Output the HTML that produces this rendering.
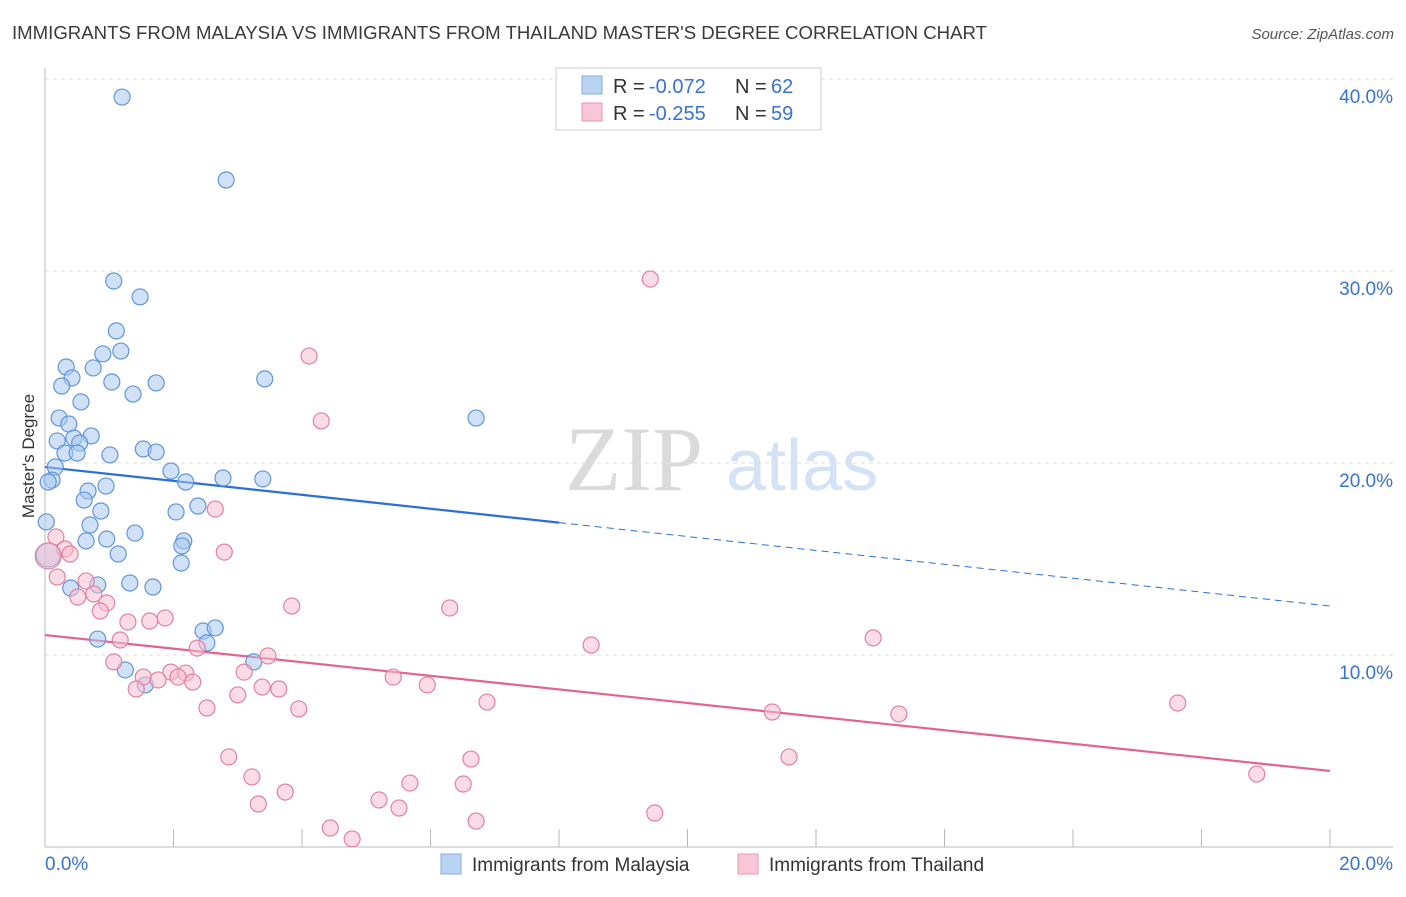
<!DOCTYPE html>
<html><head><meta charset="utf-8"><style>
body{margin:0;background:#fff;font-family:"Liberation Sans",sans-serif;}
svg text{font-family:"Liberation Sans",sans-serif;}
</style></head><body>
<svg id="chart" width="1406" height="892" xmlns="http://www.w3.org/2000/svg">
<text x="12" y="39" font-size="18" fill="#3a3a3a" textLength="975" lengthAdjust="spacingAndGlyphs">IMMIGRANTS FROM MALAYSIA VS IMMIGRANTS FROM THAILAND MASTER'S DEGREE CORRELATION CHART</text>
<text x="1394" y="39" font-size="15" fill="#555" font-style="italic" text-anchor="end">Source: ZipAtlas.com</text>
<g>
<text x="634" y="490" font-size="92" fill="#dadada" text-anchor="middle" style="font-family:'Liberation Serif',serif">ZIP</text>
<text x="802" y="490" font-size="72" fill="#d3e2f5" text-anchor="middle">atlas</text>
</g>
<text transform="translate(34,456) rotate(-90)" font-size="17" fill="#333" text-anchor="middle">Master's Degree</text>
<g id="grid"></g><g id="axes"></g><g id="lines"></g><g id="pts"></g>
<g>
<rect x="556" y="68" width="265" height="62" fill="#fff" stroke="#ccc"/>
<rect x="582" y="76" width="20" height="18" fill="#b9d3f3" stroke="#86aee0"/>
<text x="613" y="93" font-size="20" fill="#333">R =</text>
<text x="649" y="93" font-size="20" fill="#3a72d0">-0.072</text>
<text x="735" y="93" font-size="20" fill="#333">N =</text>
<text x="771" y="93" font-size="20" fill="#3a72d0">62</text>
<rect x="582" y="103" width="20" height="18" fill="#f8c6d5" stroke="#e897b1"/>
<text x="613" y="120" font-size="20" fill="#333">R =</text>
<text x="649" y="120" font-size="20" fill="#3a72d0">-0.255</text>
<text x="735" y="120" font-size="20" fill="#333">N =</text>
<text x="771" y="120" font-size="20" fill="#3a72d0">59</text>
</g>
<g>
<rect x="441" y="854" width="20" height="20" fill="#b9d3f3" stroke="#86aee0"/>
<text x="472" y="871" font-size="19" fill="#333">Immigrants from Malaysia</text>
<rect x="738" y="854" width="20" height="20" fill="#f8c6d5" stroke="#e897b1"/>
<text x="769" y="871" font-size="19" fill="#333">Immigrants from Thailand</text>
</g>
</svg>
<script>
const yTicks=[10,20,30,40];
const xTickLabels=["0.0%","20.0%"];
const blueX=[1.20,2.82,1.07,1.48,1.11,0.90,1.18,0.33,0.75,0.42,0.26,1.04,1.73,3.42,1.37,0.56,6.71,0.22,0.37,0.72,0.45,0.19,0.54,0.31,0.50,1.01,1.53,1.73,0.16,1.96,2.77,3.39,0.11,0.05,2.19,0.95,0.67,0.61,2.38,2.04,0.87,0.70,0.02,1.40,0.96,0.64,2.16,2.13,1.14,2.12,0.40,0.82,1.32,1.68,2.46,2.65,0.82,2.52,3.25,1.25,1.56,0.05];
const blueY=[39.06,34.74,29.48,28.65,26.88,25.68,25.83,25.0,24.95,24.43,24.01,24.22,24.17,24.38,23.59,23.18,22.34,22.34,22.03,21.41,21.30,21.15,21.04,20.52,20.52,20.42,20.73,20.57,19.79,19.58,19.22,19.17,19.11,19.01,19.01,18.80,18.54,18.07,17.76,17.45,17.50,16.77,16.93,16.35,16.04,15.94,15.94,15.68,15.26,14.79,13.49,13.65,13.75,13.54,11.25,11.41,10.83,10.63,9.64,9.22,8.44,15.21];
const pinkX=[9.42,4.11,4.30,2.65,2.79,0.17,0.31,0.05,0.39,0.64,0.19,0.51,0.76,0.96,0.86,1.87,1.63,1.29,3.84,6.30,1.17,2.37,8.50,12.89,1.07,3.47,3.10,1.96,2.19,2.07,1.53,2.30,1.76,1.42,3.38,3.64,5.42,5.95,3.00,2.52,3.95,6.88,11.32,13.29,17.63,2.86,6.63,11.58,3.22,18.86,5.68,6.51,3.74,3.32,5.20,5.51,9.49,6.71,4.44,4.78];
const pinkY=[29.58,25.57,22.19,17.60,15.36,16.15,15.52,15.16,15.26,13.85,14.06,13.02,13.18,12.71,12.29,11.93,11.77,11.72,12.55,12.45,10.78,10.36,10.52,10.89,9.64,9.95,9.11,9.11,9.06,8.85,8.85,8.59,8.70,8.23,8.33,8.23,8.85,8.44,7.92,7.24,7.19,7.55,7.03,6.93,7.50,4.69,4.58,4.69,3.65,3.80,3.33,3.28,2.86,2.24,2.45,2.03,1.77,1.35,0.99,0.42];
const blueTrend=[19.79,12.55];
const pinkTrend=[11.04,3.96];
const NS="http://www.w3.org/2000/svg";
const xs=v=>45+v*64.25, ys=v=>847-v*19.2;
function mk(t,a,p){const e=document.createElementNS(NS,t);for(const k in a)e.setAttribute(k,a[k]);p.appendChild(e);return e;}
const grid=document.getElementById('grid'),axes=document.getElementById('axes'),lines=document.getElementById('lines'),pts=document.getElementById('pts');
yTicks.forEach(t=>{
 const l=mk('line',{x1:45,x2:1393,y1:ys(t),y2:ys(t),stroke:'#ddd','stroke-dasharray':'4,4'},grid);
 
 
 const tx=mk('text',{x:1393,y:ys(t)+24,'font-size':19,fill:'#3a72d0','text-anchor':'end'},grid);
 tx.textContent=t.toFixed(1)+'%';
 
 
});
const ya=mk('line',{x1:45,x2:45,y1:68,y2:847,stroke:'#bbb'},axes);


const xa=mk('line',{x1:45,x2:1393,y1:847,y2:847,stroke:'#bbb'},axes);


for(let i=0;i<=20;i+=2){const t=mk('line',{x1:xs(i),x2:xs(i),y1:829,y2:847,stroke:'#bbb'},axes);
 
 }
[[0,'start',45],[20,'end',1393]].forEach((d,i)=>{const t=mk('text',{x:d[2],y:870,'font-size':19,fill:'#3a72d0','text-anchor':d[1]},axes);t.textContent=xTickLabels[i];
 
 });
function pt(x,y,r,fill,stroke,name){const c=mk('circle',{cx:xs(x),cy:ys(y),r:r,fill:fill,'fill-opacity':0.55,stroke:stroke,'stroke-width':1.2},pts);
 
 }
blueX.forEach((x,i)=>pt(x,blueY[i],i==blueX.length-1?12:8,'#a9c9f1','#5f96d8','malaysia-point'));
pinkX.forEach((x,i)=>pt(x,pinkY[i],i==7?13:8,'#f7bdd0','#e0829f','thailand-point'));
const bx=8.0, by=blueTrend[0]+(blueTrend[1]-blueTrend[0])*bx/20;
const b1=mk('line',{x1:xs(0),y1:ys(blueTrend[0]),x2:xs(bx),y2:ys(by),stroke:'#2a6fd6','stroke-width':2.2},lines);


const b2=mk('line',{x1:xs(bx),y1:ys(by),x2:xs(20),y2:ys(blueTrend[1]),stroke:'#2a6fd6','stroke-width':1,'stroke-dasharray':'7,5'},lines);


const p1=mk('line',{x1:xs(0),y1:ys(pinkTrend[0]),x2:xs(20),y2:ys(pinkTrend[1]),stroke:'#e3628f','stroke-width':2.2},lines);


</script>
</body></html>
